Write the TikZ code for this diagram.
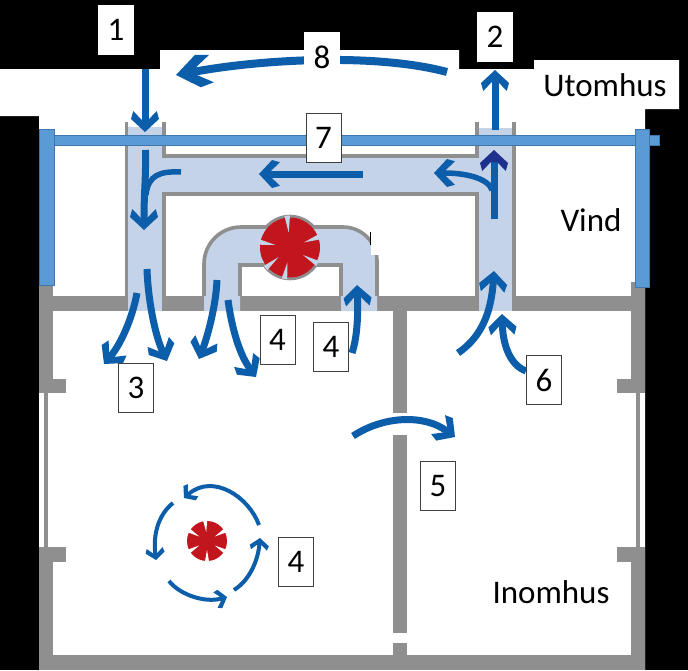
\documentclass[tikz,border=0pt]{standalone}
\usepackage{xcolor}
\usepackage{fontspec}
\setmainfont{Carlito}
\usetikzlibrary{arrows.meta}
\definecolor{flowblue}{HTML}{0C5DAA}
\definecolor{flownavy}{HTML}{1F2F8C}
\definecolor{beamblue}{HTML}{5B9BD5}
\definecolor{beamedge}{HTML}{3F77AC}
\definecolor{ductblue}{HTML}{C5D3E9}
\definecolor{wallgray}{HTML}{8F8F8F}
\definecolor{fanred}{HTML}{C2161F}
\pgfdeclarearrow{
  name=Chev,
  parameters={\the\pgfarrowlength,\the\pgfarrowwidth},
  setup code={
    \pgfarrowssettipend{0pt}
    \pgfarrowssetlineend{-0.5\pgfarrowlength}
    \pgfarrowssetbackend{-\pgfarrowlength}
    \pgfarrowshullpoint{0pt}{0pt}
    \pgfarrowsupperhullpoint{-\pgfarrowlength}{0.5\pgfarrowwidth}
    \pgfarrowssavethe\pgfarrowlength
    \pgfarrowssavethe\pgfarrowwidth
  },
  drawing code={
    \pgfpathmoveto{\pgfqpoint{0pt}{0pt}}
    \pgfpathlineto{\pgfqpoint{-0.62\pgfarrowlength}{0.5\pgfarrowwidth}}
    \pgfpathlineto{\pgfqpoint{-\pgfarrowlength}{0.42\pgfarrowwidth}}
    \pgfpathlineto{\pgfqpoint{-0.58\pgfarrowlength}{0.12\pgfarrowwidth}}
    \pgfpathlineto{\pgfqpoint{-0.58\pgfarrowlength}{-0.12\pgfarrowwidth}}
    \pgfpathlineto{\pgfqpoint{-\pgfarrowlength}{-0.42\pgfarrowwidth}}
    \pgfpathlineto{\pgfqpoint{-0.62\pgfarrowlength}{-0.5\pgfarrowwidth}}
    \pgfpathclose
    \pgfusepathqfill
  },
  defaults={length=21pt,width=28pt}
}
\begin{document}
\begin{tikzpicture}[
  x=1pt,y=-1pt,
  lbl/.style={draw=black!75,fill=white,line width=0.9pt,minimum width=35pt,minimum height=49pt,
            inner sep=0pt,font=\fontsize{33}{33}\selectfont},
  word/.style={inner sep=0pt,font=\fontsize{33}{33}\selectfont},
  wall/.style={fill=wallgray},
  duct/.style={fill=ductblue},
  pipe/.style={draw=wallgray,line width=3.6pt},
  beam/.style={fill=beamblue,draw=beamedge,line width=0.5pt},
  big/.style={draw=flowblue,line width=7pt,-{Chev[length=21pt,width=28pt]}},
  thin/.style={draw=flowblue,line width=4pt,-{Chev[length=12pt,width=19pt]}}
]
\useasboundingbox (0,0) rectangle (688,670);
\fill[black] (0,0) rectangle (688,670);
\fill[white] (0,69)--(160,69)--(160,50)--(459,50)--(459,69)--(534,69)--(534,60)--(679,60)
  --(679,109)--(645,109)--(645,670)--(39,670)--(39,116)--(0,116)--cycle;
% walls
\fill[wall] (39,296) rectangle (645,311);
\fill[wall] (39,285) rectangle (53,393);
\fill[wall] (631,282) rectangle (645,393);
\fill[wall] (39,379) rectangle (66,393);
\fill[wall] (617,379) rectangle (645,393);
\fill[wall] (44,393) rectangle (48,548);
\fill[wall] (636,393) rectangle (640,548);
\fill[wall] (39,547) rectangle (66,562);
\fill[wall] (617,547) rectangle (645,562);
\fill[wall] (39,562) rectangle (53,670);
\fill[wall] (631,562) rectangle (645,670);
\fill[wall] (39,655) rectangle (645,670);
\fill[wall] (393,311) rectangle (407,413);
\fill[wall] (393,435) rectangle (407,633);
\fill[wall] (393,643) rectangle (407,655);
% ducts
\fill[duct] (128,127) rectangle (162,311);
\fill[duct] (162,157) rectangle (479,192);
\fill[duct] (479,128) rectangle (512,311);
\draw[pipe] (126.5,122)--(126.5,296);
\draw[pipe] (164,122)--(164,156)--(477,156)--(477,122);
\draw[pipe] (164,296)--(164,194)--(477,194)--(477,296);
\draw[pipe] (514,122)--(514,296);
% fan duct
\fill[white] (166,196) rectangle (475,296);
\fill[duct] (204,311)--(204,264) arc[start angle=180,end angle=270,radius=37]--(343,227)
  arc[start angle=270,end angle=360,radius=34]--(377,311)--(341,311)--(341,265)--(240,265)--(240,311)--cycle;
\draw[pipe] (204,296)--(204,264) arc[start angle=180,end angle=270,radius=37]--(343,227)
  arc[start angle=270,end angle=360,radius=34]--(377,296);
\draw[pipe] (240,296)--(240,265)--(341,265)--(341,296);
\fill[duct] (290,247.5) circle (31);
\draw[pipe] (290,247.5) circle (31);
\fill[duct] (243,229) rectangle (340,263);
\fill[fanred] (290,247.5) circle (30);
\foreach \a in {-95,-20,30,100,140,-170}
  \fill[duct,shift={(290,247.5)}] (\a:15)--(\a-5:32)--(\a+5:32)--cycle;
\fill[white] (371,224) rectangle (474,255);
\fill[black] (369.5,232) rectangle (371,245);
% beam
\filldraw[beam] (53,135) rectangle (659,145);
\filldraw[beam] (39,129) rectangle (54,285);
\filldraw[beam] (635,129) rectangle (649,287);
% small fan
\fill[fanred] (207,541) circle (20);
\foreach \a in {-95,-30,30,90,150,-150}
  \fill[white,shift={(207,541)}] (\a:9)--(\a-6:22)--(\a+6:22)--cycle;
% arrows
\draw[big] (145,69)--(145,132);
\draw[big,line width=8pt,-{Chev[length=36pt,width=33pt]}] (447,72) .. controls (380,54) and (270,58) .. (176,75);
\draw[big] (495,130)--(495,70);
\draw[big,-{Chev[length=21pt,width=28pt,color=flownavy]}] (494,219)--(494,150);
\draw[big,line width=5.5pt] (492,190) .. controls (488,178) and (465,173) .. (434,173);
\draw[big] (458,353) .. controls (480,338) and (491,315) .. (494,271);
\draw[big] (526,371) .. controls (510,365) and (503,345) .. (502,314);
\draw[big] (363,174)--(259,174);
\draw[big] (145.5,150) .. controls (146,180) and (144,190) .. (144,230);
\draw[draw=flowblue,line width=5.5pt] (181,172) .. controls (160,171) and (148,175) .. (146,195);
\draw[big] (137,293) .. controls (132,320) and (120,345) .. (104,364);
\draw[big] (147,269) .. controls (148,300) and (155,335) .. (167,361);
\draw[big] (217,280) .. controls (216,305) and (208,335) .. (199,359);
\draw[big] (228,300) .. controls (232,330) and (240,355) .. (256,377);
\draw[big] (352,353) .. controls (358,335) and (358,310) .. (357,285);
\draw[big] (353,436) .. controls (385,415) and (425,415) .. (455,437);
\draw[thin] (259,525) .. controls (249,497) and (213,473) .. (184,498);
\draw[thin] (173,503) .. controls (158,515) and (153,535) .. (156,560);
\draw[thin] (169,581) .. controls (180,595) and (205,603) .. (227,597);
\draw[thin] (234,590) .. controls (250,580) and (258,560) .. (260,538);
% labels
\node[lbl,draw=white] (n1) at (116,30) {1};
\node[lbl,draw=white] (n2) at (495,37) {2};
\node[lbl,draw=white] (n8) at (322,57) {8};
\node[lbl] (n7) at (323.5,138) {7};
\node[lbl] (n3) at (136,388) {3};
\node[lbl] (n4a) at (277.5,340) {4};
\node[lbl] (n4b) at (331,347) {4};
\node[lbl] (n6) at (544,380) {6};
\node[lbl] (n5) at (438,486) {5};
\node[lbl] (n4c) at (296,561.5) {4};
\node[word] (utomhus) at (605,85) {Utomhus};
\node[word] (vind) at (591,220) {Vind};
\node[word] (inomhus) at (551,592) {Inomhus};
\end{tikzpicture}
\end{document}
